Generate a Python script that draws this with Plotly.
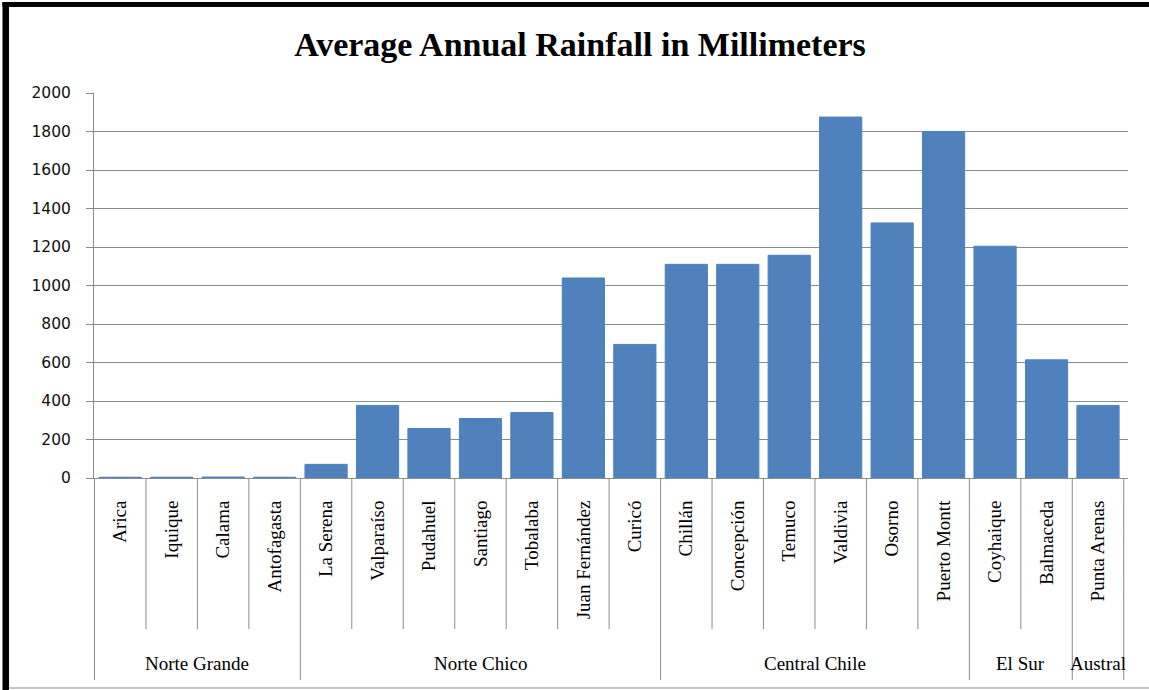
import plotly.graph_objects as go

# ---------------- data ----------------
cities = ["Arica", "Iquique", "Calama", "Antofagasta",
          "La Serena", "Valparaíso", "Pudahuel", "Santiago", "Tobalaba", "Juan Fernández", "Curicó",
          "Chillán", "Concepción", "Temuco", "Valdivia", "Osorno", "Puerto Montt",
          "Coyhaique", "Balmaceda",
          "Punta Arenas"]
rainfall_mm = [4, 4, 5, 4,
               71, 377, 257, 309, 340, 1039, 694,
               1110, 1110, 1157, 1875, 1325, 1800,
               1204, 614,
               377]
regions = ["Norte Grande", "Norte Chico", "Central Chile", "El Sur", "Austral"]
region_sizes = [4, 7, 6, 2, 1]
y_ticks = [0, 200, 400, 600, 800, 1000, 1200, 1400, 1600, 1800, 2000]
title_text = "Average Annual Rainfall in Millimeters"

# ---------------- layout geometry (pixels) ----------------
W, H = 1149, 690
PL, PR, PT, PB = 94, 1128, 93, 478          # plot area edges
pw, ph = PR - PL, PB - PT

def px_x(px):
    return (px - PL) / pw

def px_y(py):
    return (PB - py) / ph

GRID = "#8C8C8C"
BAR = "#4F81BD"
SERIF = "Liberation Serif, Times New Roman, serif"

fig = go.Figure()
fig.add_trace(go.Bar(
    x=cities, y=rainfall_mm,
    marker=dict(color=BAR, line=dict(color=BAR, width=1)),
    hoverinfo="x+y",
))

shapes = []
annotations = []

# category dividers and group dividers under the axis
boundaries = []
pos = -0.5
boundaries.append(pos)
for s in region_sizes:
    pos += s
    boundaries.append(pos)
group_b = set(boundaries)
for i in range(len(cities) + 1):
    b = i - 0.5
    is_group = b in group_b
    shapes.append(dict(type="line", xref="x", yref="paper",
                       x0=b, x1=b, y0=0, y1=px_y(680 if is_group else 629),
                       line=dict(color=GRID, width=1)))

# group labels
start = -0.5
for name, s in zip(regions, region_sizes):
    annotations.append(dict(x=start + s / 2, y=px_y(663), xref="x", yref="paper",
                            text=name, showarrow=False, xanchor="center", yanchor="middle",
                            font=dict(family=SERIF, size=19, color="#000")))
    start += s

# outer frame: thick black left and top, thin gray bottom
shapes.append(dict(type="rect", xref="paper", yref="paper", layer="above",
                   x0=px_x(2.5), x1=px_x(9), y0=px_y(690), y1=px_y(2),
                   fillcolor="#000", line=dict(width=0)))
shapes.append(dict(type="rect", xref="paper", yref="paper", layer="above",
                   x0=px_x(2.5), x1=px_x(1149), y0=px_y(7), y1=px_y(2),
                   fillcolor="#000", line=dict(width=0)))
shapes.append(dict(type="line", xref="paper", yref="paper",
                   x0=px_x(9), x1=px_x(1149), y0=px_y(688), y1=px_y(688),
                   line=dict(color=GRID, width=1)))

fig.update_layout(
    width=W, height=H,
    margin=dict(l=PL, r=W - PR, t=PT, b=H - PB, pad=0),
    paper_bgcolor="white", plot_bgcolor="white",
    showlegend=False,
    bargap=0.18,
    title=dict(text=title_text, x=580 / W, xref="container",
               y=1 - 44 / H, yref="container", xanchor="center", yanchor="middle",
               font=dict(family=SERIF, size=34, color="#000", weight="bold")),
    xaxis=dict(type="category", showgrid=False, showline=True, linecolor=GRID, linewidth=1,
               ticks="", tickangle=-90, ticklabelstandoff=14,
               tickfont=dict(family=SERIF, size=19, color="#000"),
               fixedrange=True),
    yaxis=dict(range=[0, 2000], tickvals=y_ticks, ticktext=[str(v) for v in y_ticks],
               showgrid=True, gridcolor=GRID, gridwidth=1,
               showline=True, linecolor=GRID, linewidth=1,
               ticks="outside", ticklen=7, tickcolor=GRID, ticklabelstandoff=12,
               tickfont=dict(family="DejaVu Sans", size=15.5, color="#111"),
               zeroline=False, fixedrange=True),
    shapes=shapes, annotations=annotations,
)

fig.write_html("out.html")
